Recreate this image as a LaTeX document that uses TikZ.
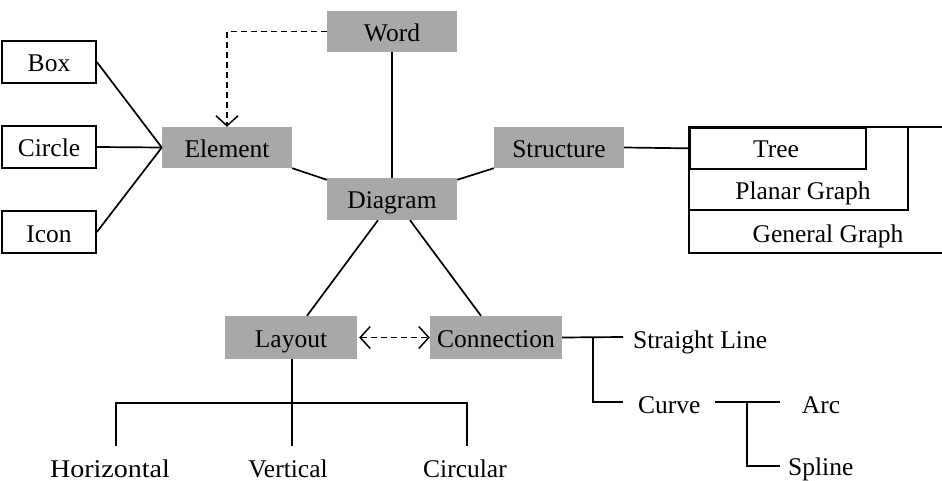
\documentclass[tikz,border=0pt]{standalone}
\usepackage{fontspec}
\setmainfont{Liberation Serif}
\usetikzlibrary{arrows.meta}
\definecolor{shade}{gray}{0.66}
\tikzset{
  every node/.style={font=\fontsize{25.5}{30}\selectfont, inner sep=0pt},
  label text/.style={text height=24pt, text depth=4pt},
  concept/.style={label text, rectangle, fill=shade, minimum width=130, minimum height=41},
  plainbox/.style={label text, rectangle, draw, line width=1.7pt, minimum width=94, minimum height=42},
  loose/.style={anchor=base},
  link/.style={line width=1.7pt},
  dashlink/.style={line width=1.6pt, dash pattern=on 6pt off 4pt},
  barb/.tip={Straight Barb[length=10pt, width=22pt, line width=1.5pt]}
}
\begin{document}
\begin{tikzpicture}[x=1pt, y=-1pt]
\useasboundingbox (0,0) rectangle (942,481);

% shaded concept boxes
\node[concept] (word) at (392,31.5) {Word};
\node[concept] (element) at (227,147.5) {Element};
\node[concept, minimum height=42] (diagram) at (392,199) {Diagram};
\node[concept] (structure) at (559,147.5) {Structure};
\node[concept, minimum width=132, minimum height=43] (layout) at (291,337.5) {Layout};
\node[concept, minimum width=132, minimum height=43] (connection) at (496,337.5) {Connection};

% element kinds
\node[plainbox] (box) at (49,62) {Box};
\node[plainbox] (circle) at (49,147) {Circle};
\node[plainbox] (icon) at (49,232) {Icon};
\draw[link] (box.east) -- (element.west);
\draw[link] (circle.east) -- (element.west);
\draw[link] (icon.east) -- (element.west);

% links around the diagram
\draw[link] (word.south) -- (diagram.north);
\draw[link] (element.south east) -- ([yshift=-2pt]diagram.north west);
\draw[link] ([yshift=-2pt]diagram.north east) -- (structure.south west);
\draw[link] ([xshift=-14pt]diagram.south) -- ([xshift=16pt]layout.north);
\draw[link] ([xshift=18pt]diagram.south) -- ([xshift=-15pt]connection.north);

% dashed references
\draw[dashlink, -barb] (word.west) -| (element.north);
\draw[dashlink, barb-barb] ([xshift=2pt]layout.east) -- (connection.west);

% structure kinds
\draw[link] (689,127) rectangle (960,253);
\draw[link] (689,127) rectangle (908,210);
\node[rectangle, draw, line width=1.7pt, minimum width=176, minimum height=41, anchor=north west] (tree) at (689,127) {};
\node[loose] (treetxt) at (776,158) {Tree};
\node[loose] (planar) at (803,200) {Planar Graph};
\node[loose] (general) at (828,242) {General Graph};
\draw[link] (structure.east) -- (tree.west);

% layout kinds
\node[loose] (horiz) at (110,477) {\scalebox{1.1}[1]{Horizontal}};
\node[loose] (vert) at (288,477) {Vertical};
\node[loose] (circ) at (465,477) {Circular};
\coordinate (hend) at (116,446);
\coordinate (vend) at (292,446);
\coordinate (cend) at (467,446);
\draw[link] (layout.south -| vend) -- (vend);
\draw[link] (hend) -- (116,403) -- (467,403) -- (cend);

% connection kinds
\node[loose, anchor=base west] (straight) at (633,348) {Straight Line};
\node[loose, anchor=base west] (curve) at (638,413) {Curve};
\node[loose] (arc) at (821,413) {Arc};
\node[loose, anchor=base west] (spline) at (788,475) {Spline};
\coordinate (sl) at (623,337);
\coordinate (cv) at (623,402);
\draw[link] (connection.east) -- (sl);
\draw[link] (593,337) |- (cv);
\coordinate (arcend) at (780,402);
\coordinate (splend) at (780,466);
\draw[link] (715,402) -- (arcend);
\draw[link] (747,402) |- (splend);
\end{tikzpicture}
\end{document}
